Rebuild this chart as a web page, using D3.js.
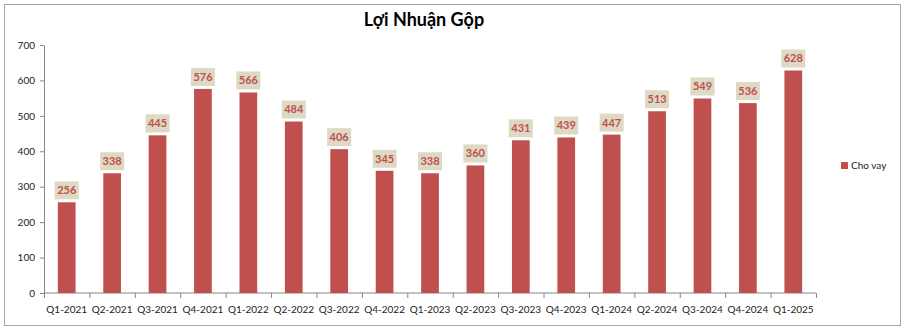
<!DOCTYPE html>
<html><head><meta charset="utf-8">
<script src="https://cdn.jsdelivr.net/npm/d3@7"></script>
<style>body{margin:0;background:#fff}svg{display:block}text{font-family:Lato,"Open Sans",sans-serif}</style>
</head><body>
<svg id="c" width="906" height="332"></svg>
<script>
const categories = ["Q1-2021","Q2-2021","Q3-2021","Q4-2021","Q1-2022","Q2-2022","Q3-2022","Q4-2022","Q1-2023","Q2-2023","Q3-2023","Q4-2023","Q1-2024","Q2-2024","Q3-2024","Q4-2024","Q1-2025"];
const values = [256,338,445,576,566,484,406,345,338,360,431,439,447,513,549,536,628];
const yTicks = [0,100,200,300,400,500,600,700];
const seriesName = "Cho vay";
const title = "Lợi Nhuận Gộp";

const svg = d3.select("#c");
svg.append("rect").attr("x",4.5).attr("y",4.5).attr("width",896).attr("height",321)
  .attr("fill","#fff").attr("stroke","#a6a6a6").attr("stroke-width",1);

const x = d3.scaleBand().domain(categories).range([44,816]).paddingInner(0.61).paddingOuter(0.305);
const xb = d3.scaleBand().domain(categories).range([44,816]);
const y = d3.scaleLinear().domain([0,700]).range([293,45]);

svg.append("text").attr("x",424).attr("y",26).attr("text-anchor","middle")
  .attr("font-size",18).attr("font-weight","bold").attr("fill","#000").text(title);

// y axis
const ya = svg.append("g").attr("transform","translate(44,0)")
  .call(d3.axisLeft(y).tickValues(yTicks).tickSize(4).tickPadding(5).tickSizeOuter(0));
ya.select(".domain").attr("stroke","#868686");
ya.selectAll(".tick line").attr("stroke","#868686");
ya.selectAll(".tick text").attr("font-size",10).attr("fill","#222");

// x axis
const xa = svg.append("g").attr("transform","translate(0,293)");
xa.append("line").attr("x1",44).attr("x2",816).attr("stroke","#868686");
const bounds = categories.map(c=>xb(c)).concat([xb.range()[1]]);
xa.selectAll("line.t").data(bounds).join("line").attr("class","t")
  .attr("x1",d=>d+0.5).attr("x2",d=>d+0.5).attr("y1",0).attr("y2",5).attr("stroke","#868686");
xa.selectAll("text").data(categories).join("text")
  .attr("x",d=>xb(d)+xb.bandwidth()/2).attr("y",20).attr("text-anchor","middle")
  .attr("font-size",10).attr("fill","#222").text(d=>d);

// bars
svg.selectAll("rect.bar").data(values).join("rect").attr("class","bar")
  .attr("x",(d,i)=>x(categories[i])).attr("width",x.bandwidth())
  .attr("y",d=>y(d)).attr("height",d=>y(0)-y(d)).attr("fill","#C0504D");

// labels
const lg = svg.selectAll("g.lbl").data(values).join("g").attr("class","lbl")
  .attr("transform",(d,i)=>`translate(${xb(categories[i])+xb.bandwidth()/2},${y(d)-12})`);
lg.append("rect").attr("x",-12).attr("y",-9).attr("width",24).attr("height",18).attr("fill","#DDD9C4");
lg.append("text").attr("text-anchor","middle").attr("dy","0.36em").attr("font-size",11)
  .attr("font-weight","bold").attr("fill","#C0504D").text(d=>d);

// legend
svg.append("rect").attr("x",841).attr("y",162).attr("width",7).attr("height",7).attr("fill","#C0504D");
svg.append("text").attr("x",851).attr("y",169).attr("font-size",10).attr("fill","#222").text(seriesName);
</script>
</body></html>
